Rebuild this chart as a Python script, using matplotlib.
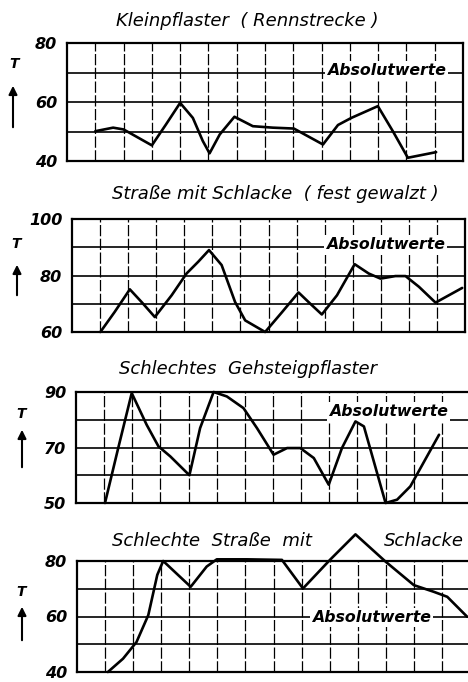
import matplotlib
matplotlib.use("Agg")
import matplotlib.pyplot as plt

W, H = 468, 682

# ---------------- data ----------------
titles = ["Kleinpflaster  ( Rennstrecke )",
          "Straße mit Schlacke  ( fest gewalzt )",
          "Schlechtes  Gehsteigpflaster",
          "Schlechte  Straße  mit"]
title4b = "Schlacke"
note = "Absolutwerte"
ylabel = "T"

p1_x = [1.0, 1.63, 2.0, 3.0, 3.5, 4.0, 4.45, 4.8, 5.04, 5.4, 5.92, 6.57, 7.28, 8.02,
        9.05, 9.58, 10.05, 10.99, 11.52, 12.05, 13.05]
p1_y = [50.1, 51.3, 50.7, 45.3, 52.4, 59.7, 54.6, 46.8, 42.6, 49.0, 55.0, 51.8, 51.3, 51.0,
        45.6, 52.2, 54.6, 58.6, 50.1, 41.1, 43.0]

p2_x = [1.01, 1.52, 2.06, 2.48, 2.95, 3.55, 4.08, 4.5, 4.88, 5.33, 5.81, 6.17, 6.88, 7.48,
        8.07, 8.49, 8.9, 9.44, 10.07, 10.57, 10.99, 11.52, 11.88, 12.36, 12.95, 13.9]
p2_y = [60.0, 67.1, 75.1, 70.6, 65.3, 73.0, 80.7, 84.9, 89.0, 83.7, 70.6, 64.1, 60.0, 67.0,
        74.0, 70.0, 66.2, 73.0, 84.0, 80.7, 78.9, 79.8, 79.8, 76.0, 70.4, 75.6]

p3_x = [1.03, 1.5, 1.98, 2.51, 2.93, 3.35, 4.03, 4.41, 4.89, 5.36, 5.95, 6.43, 7.02, 7.5,
        7.97, 8.45, 8.98, 9.45, 9.93, 10.23, 11.0, 11.41, 11.88, 12.9]
p3_y = [50.0, 69.8, 89.6, 78.2, 70.4, 66.8, 60.0, 77.0, 90.0, 88.4, 84.2, 77.0, 67.4, 69.8,
        69.8, 66.2, 56.6, 69.8, 79.4, 77.6, 50.0, 51.2, 56.0, 74.6]

p4_x = [1.1, 1.64, 2.12, 2.54, 2.86, 3.07, 4.05, 4.62, 4.98, 6.05, 7.3, 8.05, 9.02, 9.92,
        10.99, 12.0, 12.71, 13.19, 13.9]
p4_y = [40.0, 44.8, 50.8, 60.5, 75.0, 80.0, 70.7, 78.0, 80.6, 80.6, 80.4, 70.1, 80.5, 89.6,
        79.8, 71.3, 68.9, 67.1, 59.9]

xs = [p1_x, p2_x, p3_x, p4_x]
ys = [p1_y, p2_y, p3_y, p4_y]
ylims = [(40, 80), (60, 100), (50, 90), (40, 80)]

# ---------------- layout (pixels) ----------------
boxes = [(67, 463, 43, 161), (72, 465, 219, 332), (76, 470, 392, 503), (77, 470, 561, 672)]
title_pos = [(247, 21), (275, 194), (248, 369), (212, 541)]
note_pos = [(11.3, 70.8), (11.17, 90.8), (11.1, 82.8), (10.5, 59.8)]
T_pos = [(14, 64), (16, 244), (21, 414), (21, 592)]
arrow_pos = [(13, 130, 83), (17, 298, 262), (22, 470, 427), (22, 643, 604)]

def fx(x):
    return x / W

def fy(y):
    return 1 - y / H

fig = plt.figure(figsize=(W / 100, H / 100), dpi=100)
fig.patch.set_facecolor("white")

font = dict(family="DejaVu Sans", style="italic")

for i in range(4):
    l, r, t, b = boxes[i]
    ax = fig.add_axes([fx(l), fy(b), fx(r) - fx(l), fy(t) - fy(b)])
    lo, hi = ylims[i]
    ax.set_xlim(0, 14)
    ax.set_ylim(lo, hi)
    ax.set_axisbelow(True)
    ax.set_xticks(range(1, 14))
    ax.set_xticklabels([])
    yt = list(range(lo, hi + 1, 10))
    ax.set_yticks(yt)
    ax.set_yticklabels([str(v) if (v - lo) % 20 == 0 else "" for v in yt],
                       fontsize=11.5, fontweight="bold", style="italic")
    ax.tick_params(length=0, pad=7)
    ax.yaxis.grid(True, color="black", lw=1.2)
    ax.xaxis.grid(True, color="black", lw=0.9, linestyle=(0, (9, 2)))
    for s in ax.spines.values():
        s.set_linewidth(1.6)
        s.set_color("black")
    ax.plot(xs[i], ys[i], color="black", lw=1.9, zorder=5, clip_on=False,
            solid_joinstyle="round", solid_capstyle="round")
    ax.text(note_pos[i][0], note_pos[i][1], note, ha="center", va="center",
            fontsize=11.3, fontweight="bold", zorder=4, **font,
            bbox=dict(facecolor="white", edgecolor="none", pad=1.5))
    fig.text(fx(title_pos[i][0]), fy(title_pos[i][1]), titles[i], ha="center",
             va="center", fontsize=13, **font)
    fig.text(fx(T_pos[i][0]), fy(T_pos[i][1]), ylabel, ha="center", va="center",
             fontsize=10, fontweight="bold", **font)
    axp, y0, y1 = arrow_pos[i]
    fig.patches.append(matplotlib.patches.FancyArrowPatch(
        (fx(axp), fy(y0)), (fx(axp), fy(y1)), transform=fig.transFigure,
        arrowstyle="-|>,head_length=5,head_width=2.5", color="black", lw=1.5,
        mutation_scale=1))

fig.text(fx(424), fy(541), title4b, ha="center", va="center", fontsize=13, **font)

fig.savefig("out.png", dpi=100, facecolor="white")
